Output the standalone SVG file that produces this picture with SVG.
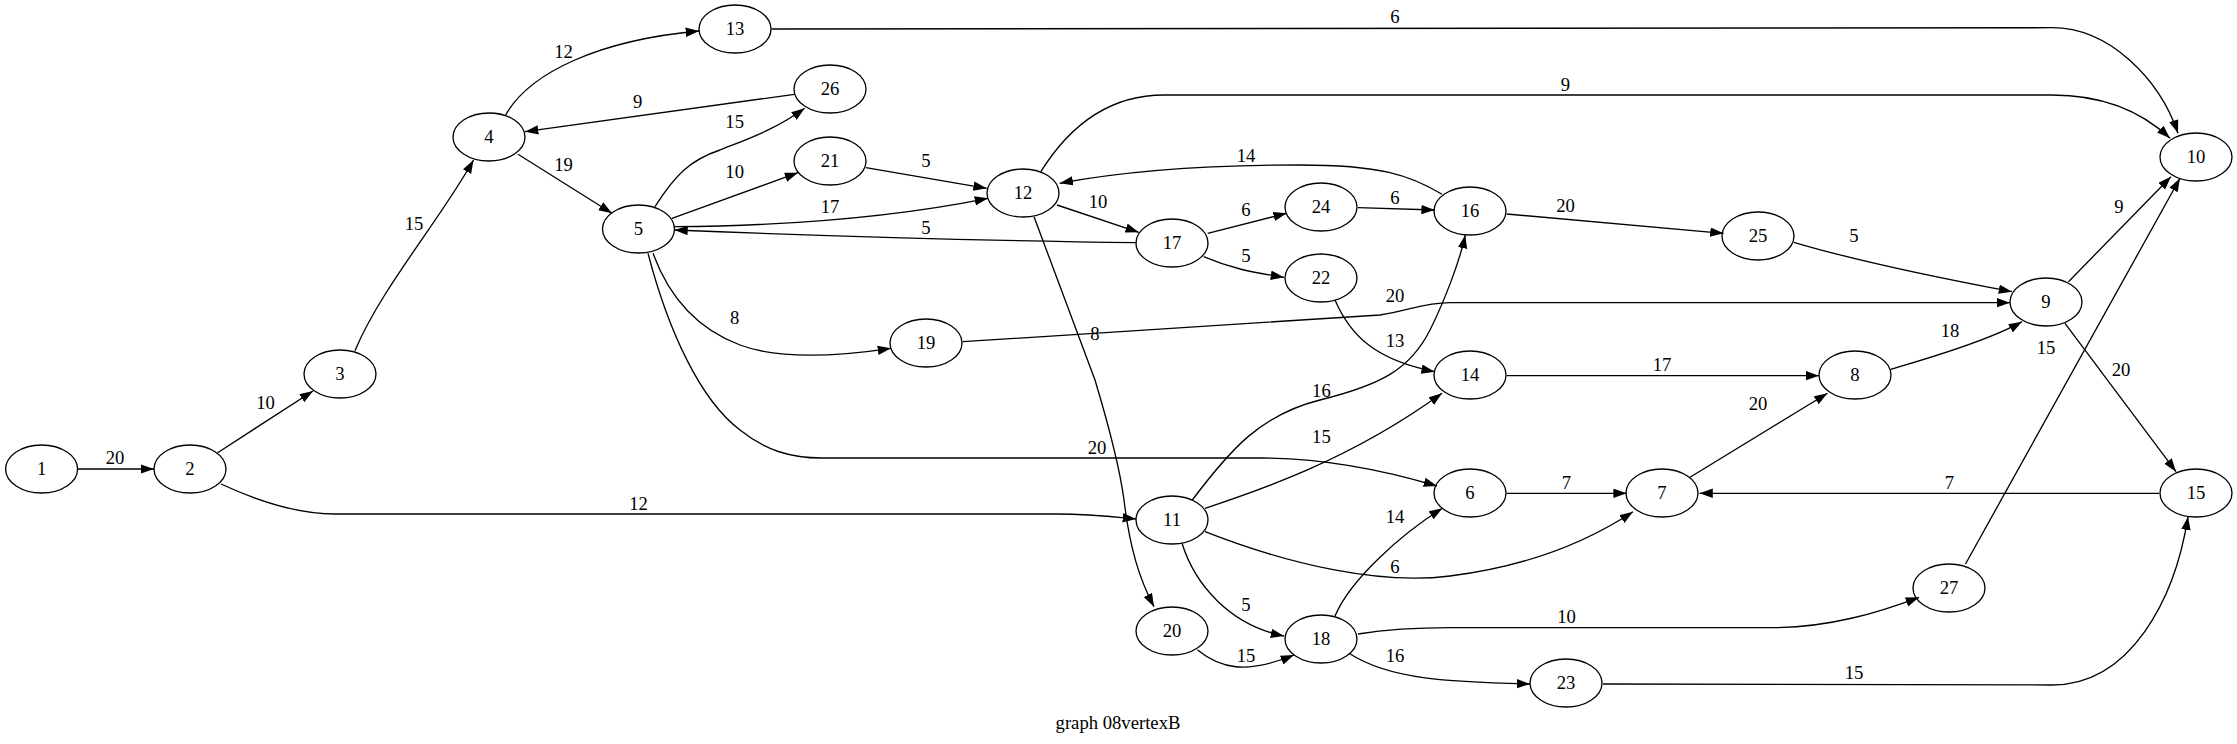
<svg xmlns="http://www.w3.org/2000/svg" width="2237" height="744" viewBox="0 0 2237 744">
<defs>
<marker id="ah" markerWidth="14" markerHeight="10" refX="13.3" refY="4.7" orient="auto" markerUnits="userSpaceOnUse"><path d="M0,0 L13.3,4.7 L0,9.4 z" fill="#000"/></marker>
<style>
.n ellipse{fill:none;stroke:#000;stroke-width:1.33}
text{font-family:"Liberation Serif","Times New Roman",serif;font-size:18.67px;text-anchor:middle;fill:#000}
#edges path{fill:none;stroke:#000;stroke-width:1.33;marker-end:url(#ah)}
</style>
</defs>
<rect width="2237" height="744" fill="#fff"/>
<g id="edges">
<path d="M77,469 L154,469"/>
<path d="M217.6,452.7 L313,391"/>
<path d="M221,484 C262,503 300,514 335,514 L1057,514 C1090,514 1115,517 1136,519"/>
<path d="M355,350.7 C380,290 440,220 473.5,160"/>
<path d="M505.6,115 C530,72 600,40 699,31"/>
<path d="M794.4,94.3 L525,131.7"/>
<path d="M518,154.3 L612,213.3"/>
<path d="M655,206.7 C675,175 690,160 720,150 C745,140 775,130 804.6,108.3"/>
<path d="M672,218.3 L798,172.7"/>
<path d="M674.4,226.7 C760,226 880,220 988,198.3"/>
<path d="M1136,242.7 C1000,241 800,235 674.4,230"/>
<path d="M653,253.3 C670,300 700,330 740,345 C780,360 840,356 891,348.3"/>
<path d="M648,253.3 C668,330 700,400 740,430 C765,450 790,458 822,458 L1261,458 C1330,458 1390,472 1437,486"/>
<path d="M865.8,167.7 L986.7,188.3"/>
<path d="M771.4,29 L2052,27.7 C2110,27.7 2160,80 2178,133.3"/>
<path d="M1040.8,171.7 C1070,125 1110,95 1164,95 L2052,95 C2100,95 2140,110 2170,138.3"/>
<path d="M1442,194.3 C1410,175 1380,165 1300,165 C1200,165 1120,172 1059.7,183.3"/>
<path d="M1057,205 L1138.8,232.3"/>
<path d="M1034,216.7 L1095,380 C1110,430 1120,470 1124,500 C1130,550 1140,580 1154,606.7"/>
<path d="M1207.7,233.3 L1286.7,213.3"/>
<path d="M1203.6,256.7 C1230,268 1250,272 1284,277.3"/>
<path d="M1358,207.7 L1434.7,210"/>
<path d="M1506.7,214 L1723.5,233.3"/>
<path d="M1793.8,242.3 C1860,262 1950,280 2012,291.7"/>
<path d="M1335,300 C1350,335 1375,360 1434.7,371.7"/>
<path d="M962.8,341.7 L1380,315 C1410,310 1425,302.7 1450,302.7 L2010,302.7"/>
<path d="M1192.3,500 C1230,450 1260,415 1320,400 C1380,385 1410,370 1430,330 C1445,300 1460,260 1465.3,235"/>
<path d="M1205,508.3 C1260,490 1350,460 1442,393.3"/>
<path d="M1205,531.7 C1290,565 1380,585 1450,576 C1530,566 1590,540 1633,511.7"/>
<path d="M1182,543.3 C1195,585 1230,625 1284,636"/>
<path d="M1197.5,650 C1220,668 1245,675 1294,655"/>
<path d="M1335,616 C1350,580 1400,535 1442.4,508.3"/>
<path d="M1358,634 C1390,629 1420,627.7 1450,627.7 L1771,627.7 C1830,627.7 1880,612 1919,597.3"/>
<path d="M1349,653.3 C1390,680 1450,682 1530,684"/>
<path d="M1603,684 L2052,685 C2130,685 2175,600 2188,516.7"/>
<path d="M1506.7,375.7 L1819,375.7"/>
<path d="M1506.7,493.3 L1626.7,493.3"/>
<path d="M1690,477.3 L1827.5,393.3"/>
<path d="M1890.7,369.3 C1930,358 1990,340 2022,321.7"/>
<path d="M2068.5,281.7 L2171,176.7"/>
<path d="M2065,323.3 L2176,471.7"/>
<path d="M2159,493.3 L1699.5,493.3"/>
<path d="M1965.5,564 L2180,178.3"/>
</g>
<g id="edge-labels">
<text x="115" y="464">20</text>
<text x="265.5" y="409">10</text>
<text x="638.5" y="510">12</text>
<text x="414" y="230">15</text>
<text x="563.5" y="58">12</text>
<text x="637.6" y="108">9</text>
<text x="563.5" y="171">19</text>
<text x="734.7" y="128">15</text>
<text x="734.7" y="178">10</text>
<text x="830" y="213">17</text>
<text x="926" y="234">5</text>
<text x="734.7" y="324">8</text>
<text x="1097" y="454">20</text>
<text x="926" y="167">5</text>
<text x="1395" y="23">6</text>
<text x="1565.5" y="91">9</text>
<text x="1246" y="162">14</text>
<text x="1098" y="208">10</text>
<text x="1095" y="340">8</text>
<text x="1246" y="216">6</text>
<text x="1246" y="262">5</text>
<text x="1395" y="204">6</text>
<text x="1565.5" y="212">20</text>
<text x="1854" y="242">5</text>
<text x="1395" y="347">13</text>
<text x="1395" y="302">20</text>
<text x="1321.4" y="397">16</text>
<text x="1321.4" y="443">15</text>
<text x="1395" y="573">6</text>
<text x="1246" y="611">5</text>
<text x="1246" y="662">15</text>
<text x="1395" y="523">14</text>
<text x="1566.5" y="623">10</text>
<text x="1395" y="662">16</text>
<text x="1854" y="679">15</text>
<text x="1662" y="371">17</text>
<text x="1566.5" y="489">7</text>
<text x="1758" y="410">20</text>
<text x="1950" y="337">18</text>
<text x="2119" y="213">9</text>
<text x="2121" y="376">20</text>
<text x="1949.5" y="489">7</text>
<text x="2046" y="354">15</text>
</g>
<g id="n1" class="n"><ellipse cx="41.6" cy="469" rx="36" ry="24"/><text x="41.6" y="475">1</text></g>
<g id="n2" class="n"><ellipse cx="190" cy="469" rx="36" ry="24"/><text x="190" y="475">2</text></g>
<g id="n3" class="n"><ellipse cx="340" cy="374" rx="36" ry="24"/><text x="340" y="380">3</text></g>
<g id="n4" class="n"><ellipse cx="489" cy="137" rx="36" ry="24"/><text x="489" y="143">4</text></g>
<g id="n5" class="n"><ellipse cx="638.5" cy="229" rx="36" ry="24"/><text x="638.5" y="235">5</text></g>
<g id="n6" class="n"><ellipse cx="1470" cy="493" rx="36" ry="24"/><text x="1470" y="499">6</text></g>
<g id="n7" class="n"><ellipse cx="1662" cy="493" rx="36" ry="24"/><text x="1662" y="499">7</text></g>
<g id="n8" class="n"><ellipse cx="1855" cy="375" rx="36" ry="24"/><text x="1855" y="381">8</text></g>
<g id="n9" class="n"><ellipse cx="2046" cy="302" rx="36" ry="24"/><text x="2046" y="308">9</text></g>
<g id="n10" class="n"><ellipse cx="2196" cy="157" rx="36" ry="24"/><text x="2196" y="163">10</text></g>
<g id="n11" class="n"><ellipse cx="1172" cy="520" rx="36" ry="24"/><text x="1172" y="526">11</text></g>
<g id="n12" class="n"><ellipse cx="1023" cy="193" rx="36" ry="24"/><text x="1023" y="199">12</text></g>
<g id="n13" class="n"><ellipse cx="735" cy="29" rx="36" ry="24"/><text x="735" y="35">13</text></g>
<g id="n14" class="n"><ellipse cx="1470" cy="375" rx="36" ry="24"/><text x="1470" y="381">14</text></g>
<g id="n15" class="n"><ellipse cx="2196" cy="493" rx="36" ry="24"/><text x="2196" y="499">15</text></g>
<g id="n16" class="n"><ellipse cx="1470" cy="211" rx="36" ry="24"/><text x="1470" y="217">16</text></g>
<g id="n17" class="n"><ellipse cx="1172" cy="243" rx="36" ry="24"/><text x="1172" y="249">17</text></g>
<g id="n18" class="n"><ellipse cx="1321" cy="639" rx="36" ry="24"/><text x="1321" y="645">18</text></g>
<g id="n19" class="n"><ellipse cx="926" cy="343" rx="36" ry="24"/><text x="926" y="349">19</text></g>
<g id="n20" class="n"><ellipse cx="1172" cy="631" rx="36" ry="24"/><text x="1172" y="637">20</text></g>
<g id="n21" class="n"><ellipse cx="830" cy="161" rx="36" ry="24"/><text x="830" y="167">21</text></g>
<g id="n22" class="n"><ellipse cx="1321" cy="278" rx="36" ry="24"/><text x="1321" y="284">22</text></g>
<g id="n23" class="n"><ellipse cx="1566" cy="683" rx="36" ry="24"/><text x="1566" y="689">23</text></g>
<g id="n24" class="n"><ellipse cx="1321" cy="207" rx="36" ry="24"/><text x="1321" y="213">24</text></g>
<g id="n25" class="n"><ellipse cx="1758" cy="236" rx="36" ry="24"/><text x="1758" y="242">25</text></g>
<g id="n26" class="n"><ellipse cx="830" cy="89" rx="36" ry="24"/><text x="830" y="95">26</text></g>
<g id="n27" class="n"><ellipse cx="1949" cy="588" rx="36" ry="24"/><text x="1949" y="594">27</text></g>
<text x="1118" y="729">graph 08vertexB</text>
</svg>
